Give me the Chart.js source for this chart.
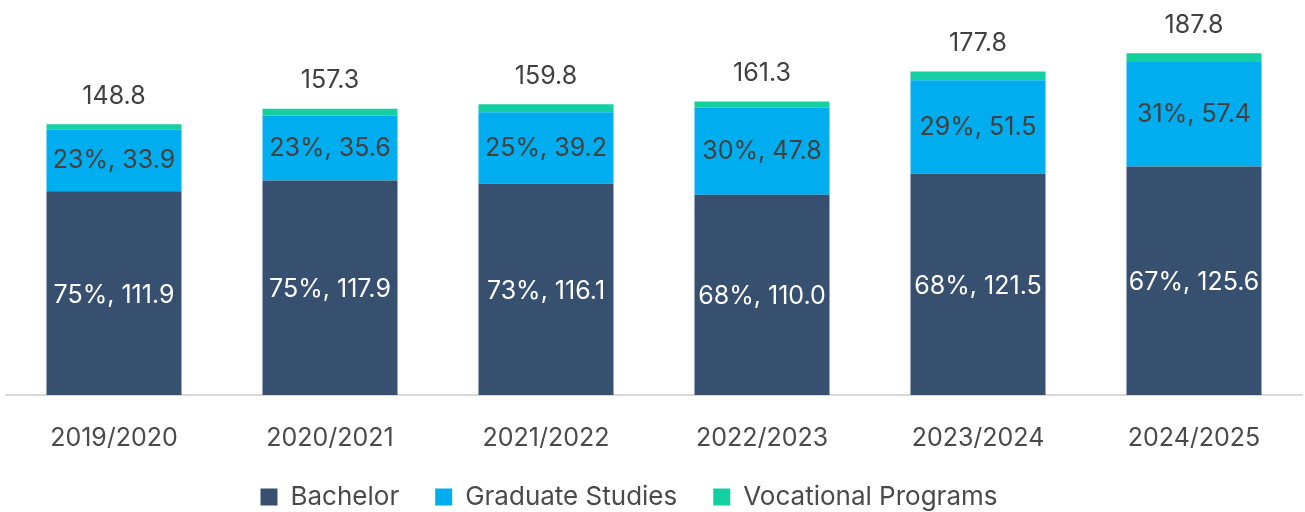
<!DOCTYPE html>
<html><head><meta charset="utf-8">
<script src="https://cdn.jsdelivr.net/npm/chart.js@4"></script>
<style>html,body{margin:0;padding:0;background:#fff}#wrap{width:1305px;height:512px}</style>
</head><body><div id="wrap"><canvas id="c" width="1305" height="512"></canvas></div>
<script>
const categories = ["2019/2020","2020/2021","2021/2022","2022/2023","2023/2024","2024/2025"];
const bachelor = [111.9,117.9,116.1,110.0,121.5,125.6];
const graduate = [33.9,35.6,39.2,47.8,51.5,57.4];
const vocational = [3.0,3.8,4.5,3.5,4.8,4.8];
const totals = [148.8,157.3,159.8,161.3,177.8,187.8];
const FONT = "Inter, 'Noto Sans', sans-serif";
const TXT = '#404040';

const labelPlugin = {
  id:'labels',
  afterDatasetsDraw(chart){
    const ctx = chart.ctx;
    ctx.save();
    ctx.font = '25px ' + FONT;
    ctx.textAlign='center'; ctx.textBaseline='middle';
    const m0 = chart.getDatasetMeta(0), m1 = chart.getDatasetMeta(1), m2 = chart.getDatasetMeta(2);
    categories.forEach((c,i)=>{
      const b = m0.data[i], g = m1.data[i], v = m2.data[i];
      const t = totals[i];
      ctx.fillStyle='#ffffff';
      ctx.fillText(Math.round(bachelor[i]/t*100)+'%, '+bachelor[i].toFixed(1), b.x, (b.y+b.base)/2+2);
      ctx.fillStyle=TXT;
      ctx.fillText(Math.round(graduate[i]/t*100)+'%, '+graduate[i].toFixed(1), g.x, (g.y+g.base)/2);
      ctx.fillText(t.toFixed(1), v.x, v.y-28);
    });
    ctx.restore();
  }
};

const legendTweak = {
  id:'legendTweak',
  beforeUpdate(chart){
    const lg = chart.legend;
    if (lg && !lg._tweaked){
      const orig = lg.fit.bind(lg);
      lg.fit = function(){ orig(); this.height = 64; };
      lg._tweaked = true;
    }
  },
  afterLayout(chart){
    const lg = chart.legend;
    if (lg){ lg.left -= 25; lg.right -= 25; }
  }
};

new Chart(document.getElementById('c'),{
  type:'bar',
  data:{labels:categories,datasets:[
    {label:'Bachelor',data:bachelor,backgroundColor:'#375070'},
    {label:'Graduate Studies',data:graduate,backgroundColor:'#00adee'},
    {label:'Vocational Programs',data:vocational,backgroundColor:'#14d0a0'}
  ]},
  options:{
    responsive:false,animation:false,
    layout:{padding:{left:6,right:3,top:31,bottom:0}},
    datasets:{bar:{categoryPercentage:1,barPercentage:0.625}},
    scales:{
      x:{stacked:true,grid:{display:false},border:{display:true,color:'#d9d9d9',width:2},
         ticks:{color:'#4a4a4a',font:{family:FONT,size:25},padding:20},
         afterFit(scale){ scale.height -= 25; }},
      y:{stacked:true,display:false,min:0,max:200}
    },
    plugins:{
      tooltip:{enabled:false},
      legend:{position:'bottom',labels:{color:'#4a4a4a',font:{family:FONT,size:26},boxWidth:17,boxHeight:17,padding:36,useBorderRadius:false}}
    }
  },
  plugins:[legendTweak,labelPlugin]
});
</script></body></html>
